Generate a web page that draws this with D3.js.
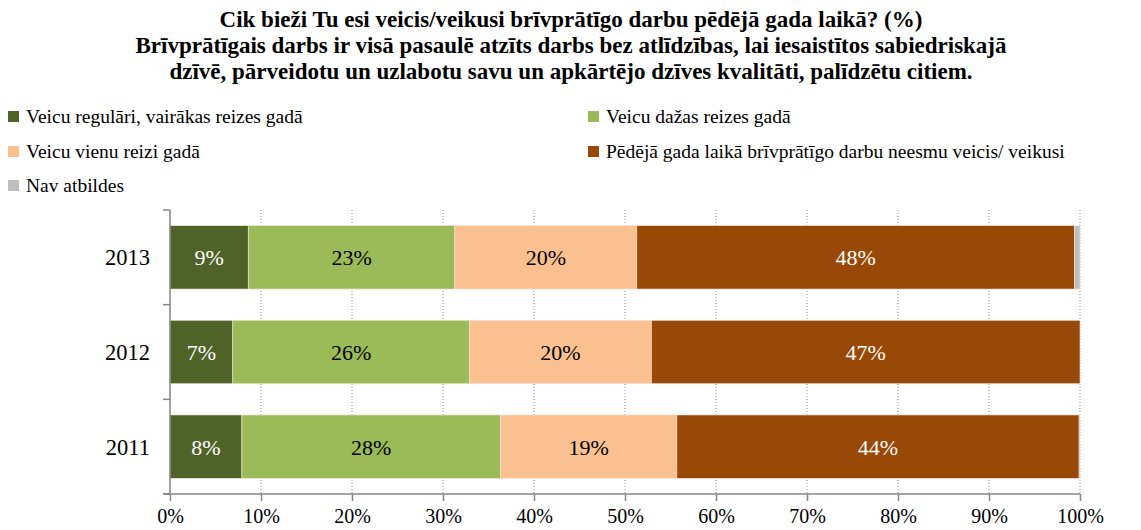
<!DOCTYPE html>
<html>
<head>
<meta charset="utf-8">
<script src="https://cdn.jsdelivr.net/npm/d3@7"></script>
<style>
  body { margin: 0; background: #fff; }
</style>
</head>
<body>
<svg id="chart" width="1141" height="530"></svg>
<script>
// data
const titleLines = [
  'Cik bieži Tu esi veicis/veikusi brīvprātīgo darbu pēdējā gada laikā? (%)',
  'Brīvprātīgais darbs ir visā pasaulē atzīts darbs bez atlīdzības, lai iesaistītos sabiedriskajā',
  'dzīvē, pārveidotu un uzlabotu savu un apkārtējo dzīves kvalitāti, palīdzētu citiem.'
];
const years = ['2013', '2012', '2011'];
const seriesNames = [
  'Veicu regulāri, vairākas reizes gadā',
  'Veicu dažas reizes gadā',
  'Veicu vienu reizi gadā',
  'Pēdējā gada laikā brīvprātīgo darbu neesmu veicis/ veikusi',
  'Nav atbildes'
];
const regular = [8.6, 6.9, 7.9];
const several = [22.7, 26.0, 28.4];
const once = [20.0, 20.0, 19.4];
const never = [48.1, 47.1, 44.2];
const noAnswer = [0.6, 0.0, 0.1];
const xTicks = [0, 10, 20, 30, 40, 50, 60, 70, 80, 90, 100];

const colors = ['#4F6228', '#9BBB59', '#FAC090', '#984807', '#BFBFBF'];
const labelColors = ['#fff', '#000', '#000', '#fff', '#000'];
const seriesValues = [regular, several, once, never, noAnswer];

const font = '"Liberation Serif", "DejaVu Serif", serif';
const svg = d3.select('#chart').attr('font-family', font);
const margin = { top: 210, left: 170, right: 61, bottom: 36 };
const width = 1141, height = 530;

const x = d3.scaleLinear().domain([0, 100]).range([margin.left, width - margin.right]);
const y = d3.scaleBand().domain(years).range([margin.top, height - margin.bottom])
  .paddingInner(0.33).paddingOuter(0.165);

// title
svg.append('g').selectAll('text')
  .data(titleLines)
  .enter().append('text')
  .attr('x', 571)
  .attr('y', (d, i) => 27 + i * 26)
  .attr('text-anchor', 'middle')
  .attr('font-family', font)
  .attr('font-size', 23)
  .attr('font-weight', 'bold')
  .text(d => d);

// legend
const legendPos = [[8, 117], [588, 117], [8, 152], [588, 152], [8, 186]];
const legend = svg.append('g').selectAll('g')
  .data(seriesNames)
  .enter().append('g')
  .attr('transform', (d, i) => `translate(${legendPos[i][0]},${legendPos[i][1]})`);
legend.append('rect')
  .attr('x', 0).attr('y', -6).attr('width', 11).attr('height', 11)
  .attr('fill', (d, i) => colors[i]);
legend.append('text')
  .attr('x', 18).attr('y', 6)
  .attr('font-family', font)
  .attr('font-size', 19.5)
  .text(d => d);

// gridlines (dotted)
svg.append('g').selectAll('line')
  .data(xTicks.slice(1))
  .enter().append('line')
  .attr('x1', d => x(d)).attr('x2', d => x(d))
  .attr('y1', margin.top).attr('y2', height - margin.bottom)
  .attr('stroke', '#8c8c8c')
  .attr('stroke-width', 1)
  .attr('stroke-dasharray', '1,2');

// stacked bars
const stacked = years.map((yr, i) => {
  let acc = 0;
  return seriesValues.map((s, k) => {
    const seg = { year: yr, k, v: s[i], x0: acc, x1: acc + s[i] };
    acc += s[i];
    return seg;
  });
}).flat().filter(d => d.v > 0);

svg.append('g').selectAll('rect')
  .data(stacked)
  .enter().append('rect')
  .attr('x', d => x(d.x0))
  .attr('y', d => y(d.year))
  .attr('width', d => x(d.x1) - x(d.x0))
  .attr('height', y.bandwidth())
  .attr('fill', d => colors[d.k])
  .attr('stroke', '#f2e6dc')
  .attr('stroke-width', 0.6);

// data labels
svg.append('g').selectAll('text')
  .data(stacked.filter(d => d.k < 4))
  .enter().append('text')
  .attr('x', d => x((d.x0 + d.x1) / 2))
  .attr('y', d => y(d.year) + y.bandwidth() / 2 + 8)
  .attr('text-anchor', 'middle')
  .attr('font-family', font)
  .attr('font-size', 22)
  .attr('fill', d => labelColors[d.k])
  .text(d => Math.round(d.v) + '%');

// y axis: tick marks at category boundaries
const yBounds = [margin.top].concat(years.map((yr, i) => margin.top + (i + 1) * (height - margin.bottom - margin.top) / years.length));
const yAxis = svg.append('g');
yAxis.append('line')
  .attr('x1', margin.left).attr('x2', margin.left)
  .attr('y1', margin.top).attr('y2', height - margin.bottom)
  .attr('stroke', '#868686').attr('stroke-width', 1.5);
yAxis.selectAll('.tk')
  .data(yBounds)
  .enter().append('line')
  .attr('x1', margin.left - 7).attr('x2', margin.left)
  .attr('y1', d => d).attr('y2', d => d)
  .attr('stroke', '#868686').attr('stroke-width', 1.5);
yAxis.selectAll('text')
  .data(years)
  .enter().append('text')
  .attr('x', 150)
  .attr('y', d => y(d) + y.bandwidth() / 2 + 8)
  .attr('text-anchor', 'end')
  .attr('font-family', font)
  .attr('font-size', 22.5)
  .text(d => d);

// x axis
const xAxis = svg.append('g')
  .attr('transform', `translate(0,${height - margin.bottom})`)
  .call(d3.axisBottom(x).tickValues(xTicks).tickFormat(d => d + '%').tickSize(7).tickPadding(8));
xAxis.select('.domain').remove();
xAxis.append('line')
  .attr('x1', margin.left - 7).attr('x2', x(100))
  .attr('stroke', '#868686').attr('stroke-width', 1.5);
xAxis.selectAll('.tick line').attr('stroke', '#868686').attr('stroke-width', 1.5);
xAxis.selectAll('.tick text')
  .attr('font-family', font)
  .attr('font-size', 20)
  .attr('fill', '#000');
</script>
</body>
</html>
